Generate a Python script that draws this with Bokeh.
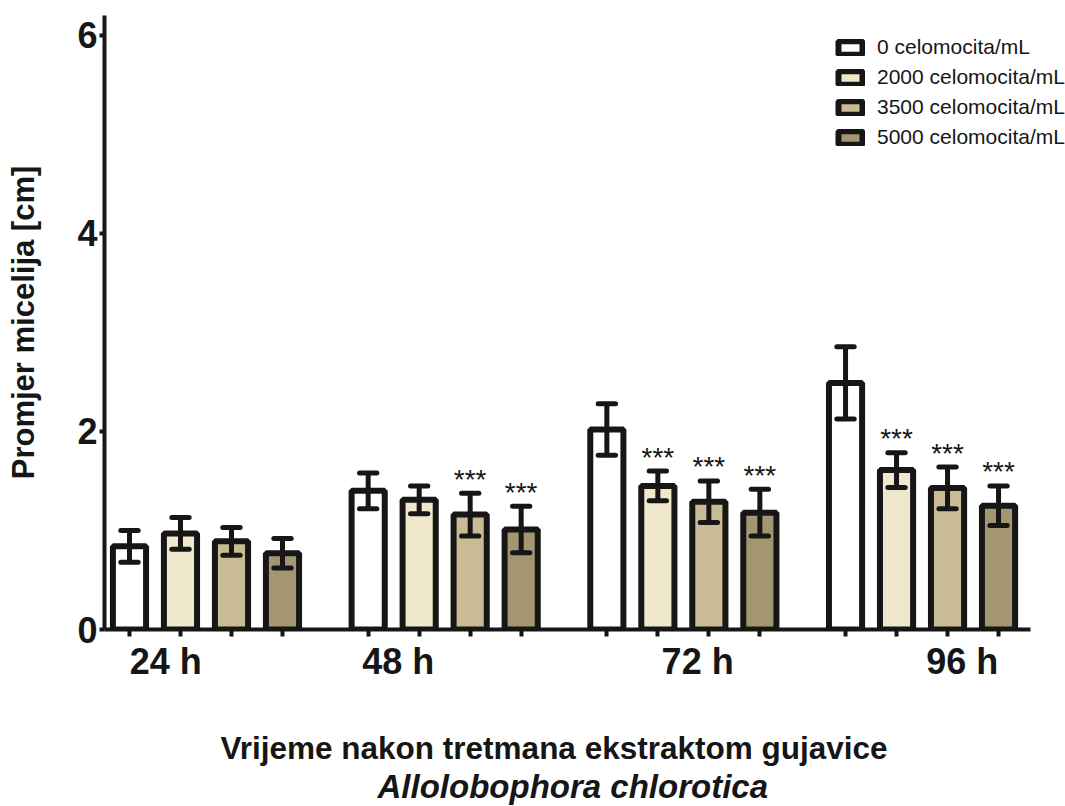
from bokeh.plotting import figure
from bokeh.models import FixedTicker, Title, Legend, LegendItem, ColumnDataSource
from bokeh.embed import file_html
from bokeh.resources import INLINE
from bokeh.core.properties import value

# ---------------- data ----------------
times = ["24 h", "48 h", "72 h", "96 h"]
series = ["0 celomocita/mL", "2000 celomocita/mL", "3500 celomocita/mL", "5000 celomocita/mL"]

mean_0 = [0.84, 1.40, 2.02, 2.49]
mean_2000 = [0.97, 1.31, 1.45, 1.61]
mean_3500 = [0.89, 1.16, 1.29, 1.43]
mean_5000 = [0.77, 1.01, 1.18, 1.25]

sem_0 = [0.16, 0.18, 0.26, 0.365]
sem_2000 = [0.16, 0.14, 0.15, 0.175]
sem_3500 = [0.14, 0.215, 0.21, 0.21]
sem_5000 = [0.15, 0.235, 0.235, 0.20]

sig_0 = ["", "", "", ""]
sig_2000 = ["", "", "***", "***"]
sig_3500 = ["", "***", "***", "***"]
sig_5000 = ["", "***", "***", "***"]

y_ticks = [0, 2, 4, 6]

x_title = "Vrijeme nakon tretmana ekstraktom gujavice"
x_subtitle = "Allolobophora chlorotica"
y_title = "Promjer micelija [cm]"

# ---------------- style / layout ----------------
colors = ["#FFFFFF", "#F0E8CD", "#C9BC94", "#A39670"]
FONT = "Liberation Sans"
INK = "#161616"
group_step = 4.68
bar_width = 0.65
cap_half = 0.17
label_pos = [0.71, 5.27, 11.14, 16.33]

means = [mean_0, mean_2000, mean_3500, mean_5000]
sems = [sem_0, sem_2000, sem_3500, sem_5000]
sigs = [sig_0, sig_2000, sig_3500, sig_5000]

p = figure(width=1065, height=806, x_range=(-0.49, 18.353), y_range=(0, 6.2),
           output_backend="svg", toolbar_location=None,
           min_border_left=104, min_border_right=0, min_border_top=15, min_border_bottom=177)
p.outline_line_color = None
p.grid.visible = False
p.background_fill_color = "white"
p.border_fill_color = "white"

bars = []
all_x = []
for si in range(4):
    xs = [g * group_step + si for g in range(4)]
    all_x += xs
    lo = [m - e for m, e in zip(means[si], sems[si])]
    hi = [m + e for m, e in zip(means[si], sems[si])]
    src = ColumnDataSource(dict(
        x=xs, top=means[si], lo=lo, hi=hi, sig=sigs[si],
        cl=[x - cap_half for x in xs], cr=[x + cap_half for x in xs]))
    r = p.vbar(x="x", top="top", bottom=0, width=bar_width, source=src,
               fill_color=colors[si], line_color=INK, line_width=6)
    bars.append(r)
    p.segment(x0="x", y0="lo", x1="x", y1="hi", source=src, line_color=INK, line_width=5)
    p.segment(x0="cl", y0="hi", x1="cr", y1="hi", source=src, line_color=INK,
              line_width=5, line_cap="round")
    p.segment(x0="cl", y0="lo", x1="cr", y1="lo", source=src, line_color=INK,
              line_width=5, line_cap="round")
    p.text(x="x", y="hi", text="sig", source=src, text_align="center",
           text_baseline="alphabetic", y_offset=-14, text_font=value(FONT),
           text_font_size="28px", text_color=INK)

# ---------------- axes ----------------
xa = p.xaxis[0]
xa.ticker = FixedTicker(ticks=label_pos, minor_ticks=sorted(all_x))
xa.major_label_overrides = {label_pos[i]: times[i] for i in range(4)}
xa.bounds = (-0.49, 17.67)
xa.axis_line_width = 4
xa.axis_line_color = INK
xa.major_tick_out = 0
xa.major_tick_in = 0
xa.minor_tick_out = 7
xa.minor_tick_in = 0
xa.minor_tick_line_width = 4
xa.minor_tick_line_color = INK
xa.major_label_text_font = FONT
xa.major_label_text_font_size = "36px"
xa.major_label_text_font_style = "bold"
xa.major_label_text_color = INK
xa.major_label_standoff = 4
# blank axis label used only as vertical spacer before the two-line title
xa.axis_label = " "
xa.axis_label_text_font_size = "10px"
xa.axis_label_standoff = 31

ya = p.yaxis[0]
ya.ticker = FixedTicker(ticks=y_ticks)
ya.bounds = (0, 6.2)
ya.axis_line_width = 4
ya.axis_line_color = INK
ya.major_tick_out = 5
ya.major_tick_in = 0
ya.major_tick_line_width = 4
ya.major_tick_line_color = INK
ya.minor_tick_out = 0
ya.minor_tick_in = 0
ya.major_label_text_font = FONT
ya.major_label_text_font_size = "36px"
ya.major_label_text_font_style = "bold"
ya.major_label_text_color = INK
ya.major_label_standoff = 2
ya.axis_label = y_title
ya.axis_label_text_font = FONT
ya.axis_label_text_font_size = "31px"
ya.axis_label_text_font_style = "bold"
ya.axis_label_text_color = INK
ya.axis_label_standoff = 33

# ---------------- x title (two lines) ----------------
p.add_layout(Title(text=x_title, align="left", offset=116, standoff=0, vertical_align="top",
                   text_font=FONT, text_font_size="31.5px", text_font_style="bold",
                   text_color=INK), "below")
p.add_layout(Title(text=x_subtitle, align="left", offset=273, standoff=0, vertical_align="top",
                   text_font=FONT, text_font_size="33px", text_font_style="bold italic",
                   text_color=INK), "below")

# ---------------- legend ----------------
legend = Legend(items=[LegendItem(label=series[i], renderers=[bars[i]]) for i in range(4)],
                location=(731, 480), glyph_width=30, glyph_height=17, label_height=17,
                spacing=6, padding=0, margin=0, border_line_color=None,
                background_fill_alpha=0, label_text_font=FONT,
                label_text_font_size="21px", label_text_color=INK, label_standoff=12)
p.add_layout(legend)

open("out.html", "w").write(file_html(p, INLINE))
